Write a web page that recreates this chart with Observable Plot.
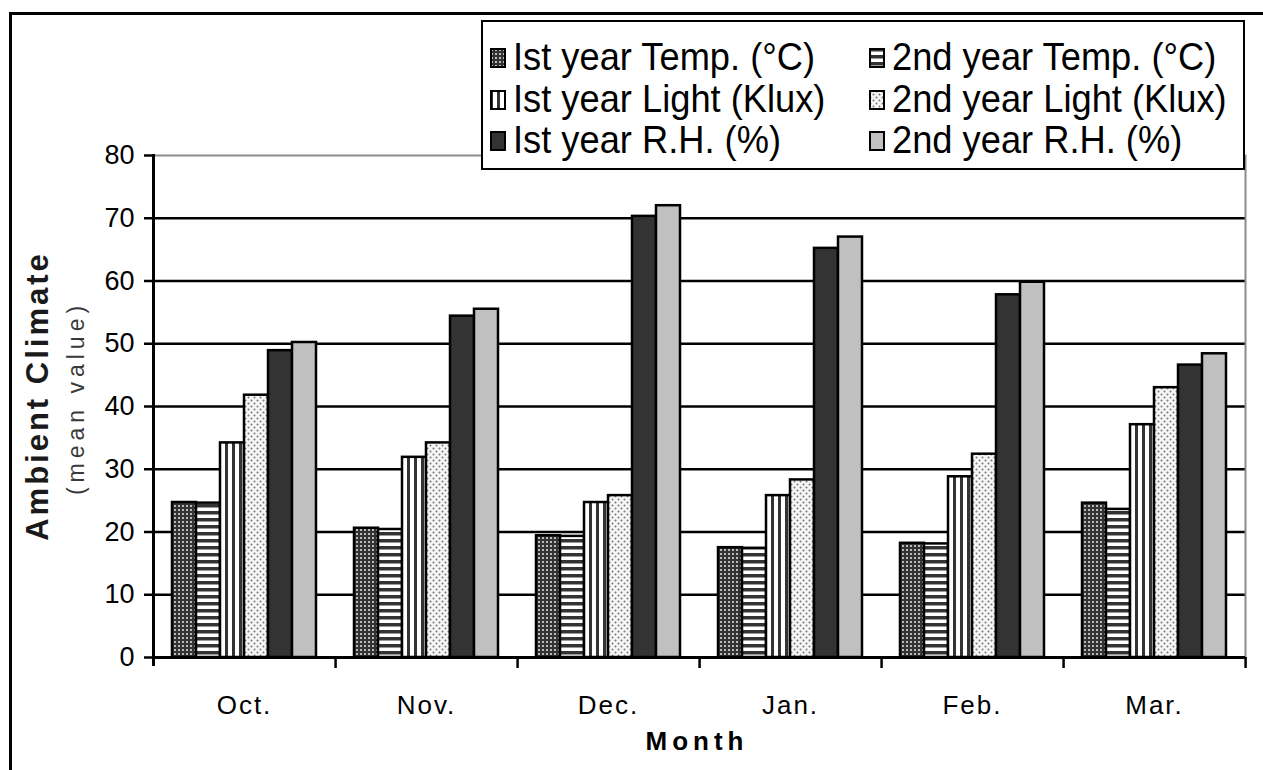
<!DOCTYPE html>
<html>
<head>
<meta charset="utf-8">
<script src="https://cdn.jsdelivr.net/npm/d3@7"></script>
<script src="https://cdn.jsdelivr.net/npm/@observablehq/plot@0.6"></script>
<style>
  html, body { margin: 0; padding: 0; background: white; }
  #wrap { position: relative; width: 1263px; height: 770px; overflow: hidden; font-family: "Liberation Sans", Arial, sans-serif; }
  #wrap > svg.plot { position: absolute; left: 0; top: 0; }
  #border { position: absolute; left: 9px; top: 12px; right: -10px; bottom: -10px; border-top: 3px solid #000; border-left: 3px solid #000; pointer-events: none; }
  #legend { position: absolute; left: 481px; top: 20px; width: 760px; height: 146px; border: 2px solid #000; background: white; }
  .li { position: absolute; height: 38px; }
  .li svg { position: absolute; left: 0; top: 10px; }
  .li span { position: absolute; left: 23px; top: 0; font-size: 39px; line-height: 38px; white-space: nowrap; transform: scaleX(0.93); transform-origin: left center; color: #000; }
  #ylab1 { position: absolute; left: 38px; top: 396px; transform: translate(-50%, -50%) rotate(-90deg); font-weight: bold; font-size: 31px; letter-spacing: 3px; white-space: nowrap; color: #1a1a1a; }
  #ylab2 { position: absolute; left: 76px; top: 398px; transform: translate(-50%, -50%) rotate(-90deg); font-size: 23px; letter-spacing: 5px; white-space: nowrap; color: #3a3a3a; }
  #xlab { position: absolute; left: 697px; top: 741px; transform: translate(-50%, -50%); font-weight: bold; font-size: 26px; letter-spacing: 5px; white-space: nowrap; }
</style>
</head>
<body>
<svg width="0" height="0" style="position:absolute">
  <defs>
    <pattern id="pTemp1" width="4" height="4" patternUnits="userSpaceOnUse">
      <rect width="4" height="4" fill="#333"/>
      <rect x="1" y="1" width="2" height="2" fill="#bbb"/>
    </pattern>
    <pattern id="pTemp2" width="7" height="7" patternUnits="userSpaceOnUse">
      <rect width="7" height="7" fill="#fff"/>
      <rect width="7" height="3.5" fill="#333"/>
    </pattern>
    <pattern id="pLight1" width="7" height="7" patternUnits="userSpaceOnUse">
      <rect width="7" height="7" fill="#fff"/>
      <rect width="3" height="7" fill="#333"/>
    </pattern>
    <pattern id="pLight2" width="6" height="6" patternUnits="userSpaceOnUse">
      <rect width="6" height="6" fill="#f6f6f6"/>
      <circle cx="1.5" cy="1.5" r="1" fill="#777"/>
      <circle cx="4.5" cy="4.5" r="1" fill="#777"/>
    </pattern>
  </defs>
</svg>
<div id="wrap"></div>
<script>
const months = ["Oct.", "Nov.", "Dec.", "Jan.", "Feb.", "Mar."];
const series = [
  "Ist year Temp. (°C)", "2nd year Temp. (°C)",
  "Ist year Light (Klux)", "2nd year Light (Klux)",
  "Ist year R.H. (%)", "2nd year R.H. (%)"
];
const temp1  = [24.7, 20.6, 19.4, 17.5, 18.2, 24.6];
const temp2  = [24.6, 20.4, 19.3, 17.4, 18.1, 23.6];
const light1 = [34.2, 31.9, 24.7, 25.8, 28.8, 37.1];
const light2 = [41.8, 34.2, 25.8, 28.3, 32.4, 43.0];
const rh1    = [48.9, 54.4, 70.3, 65.2, 57.8, 46.6];
const rh2    = [50.2, 55.5, 72.0, 67.0, 59.8, 48.4];
const yTicks = [0, 10, 20, 30, 40, 50, 60, 70, 80];
const fills = ["url(#pTemp1)", "url(#pTemp2)", "url(#pLight1)", "url(#pLight2)", "#333333", "#c0c0c0"];

const seriesValues = [temp1, temp2, light1, light2, rh1, rh2];
const rows = [];
months.forEach((m, i) => series.forEach((s, j) => rows.push({month: m, series: s, value: seriesValues[j][i]})));

const W = 1263, H = 770, mL = 152, mR = 18, mT = 155, mB = 113;
const step = (W - mL - mR) / months.length;

const chart = Plot.plot({
  width: W, height: H,
  marginLeft: mL, marginRight: mR, marginTop: mT, marginBottom: mB,
  style: {fontFamily: "'Liberation Sans', Arial, sans-serif", fontSize: "27px", color: "black", background: "transparent"},
  fx: {domain: months, padding: 0, label: null},
  x: {domain: series, paddingInner: 0, paddingOuter: 0.75, axis: null},
  y: {domain: [0, 80], label: null, axis: null},
  color: {type: "ordinal", domain: series, range: fills},
  marks: [
    Plot.gridY(yTicks.filter(d => d > 0 && d < 80), {stroke: "black", strokeOpacity: 1, strokeWidth: 2.5}),
    Plot.ruleY([80], {stroke: "#8c8c8c", strokeWidth: 2}),
    Plot.frame({anchor: "right", fx: () => months[months.length - 1], stroke: "#8c8c8c", strokeWidth: 2}),
    Plot.barY(rows, {fx: "month", x: "series", y: "value", fill: "series", stroke: "black", strokeWidth: 2.5}),
    Plot.ruleY([0], {stroke: "black", strokeWidth: 3}),
    Plot.frame({anchor: "left", fx: () => months[0], stroke: "black", strokeWidth: 3, insetBottom: -7}),
    Plot.axisY(yTicks, {anchor: "left", tickSize: 9, tickPadding: 10, strokeWidth: 2.5, label: null}),
    Plot.axisFx({anchor: "bottom", tickSize: 0, tickPadding: 38, label: null}),
    Plot.axisFx({anchor: "bottom", tickSize: 11, tickFormat: () => "", dx: step / 2, strokeWidth: 2.5, label: null})
  ]
});
chart.classList.add("plot");
// enforce tick label sizes directly on the text elements
chart.querySelectorAll("text").forEach(t => {
  if (months.includes(t.textContent.trim())) {
    t.style.fontSize = "26px";
    t.style.letterSpacing = "2px";
  } else {
    t.style.fontSize = "27px";
  }
});
const wrap = document.getElementById("wrap");
wrap.appendChild(chart);

// axis titles
const y1 = document.createElement("div"); y1.id = "ylab1"; y1.textContent = "Ambient Climate"; wrap.appendChild(y1);
const y2 = document.createElement("div"); y2.id = "ylab2"; y2.textContent = "(mean value)"; wrap.appendChild(y2);
const xl = document.createElement("div"); xl.id = "xlab"; xl.textContent = "Month"; wrap.appendChild(xl);

// legend
const legend = document.createElement("div"); legend.id = "legend";
series.forEach((s, i) => {
  const col = i % 2, row = Math.floor(i / 2);
  const item = document.createElement("div"); item.className = "li";
  item.style.left = (col ? 386 : 7) + "px";
  item.style.top = (16 + row * 41.5) + "px";
  item.innerHTML = `<svg width="16" height="20"><rect x="1" y="1" width="14" height="18" fill="${fills[i]}" stroke="black" stroke-width="2"/></svg><span>${s}</span>`;
  legend.appendChild(item);
});
wrap.appendChild(legend);

const border = document.createElement("div"); border.id = "border"; wrap.appendChild(border);
</script>
</body>
</html>
